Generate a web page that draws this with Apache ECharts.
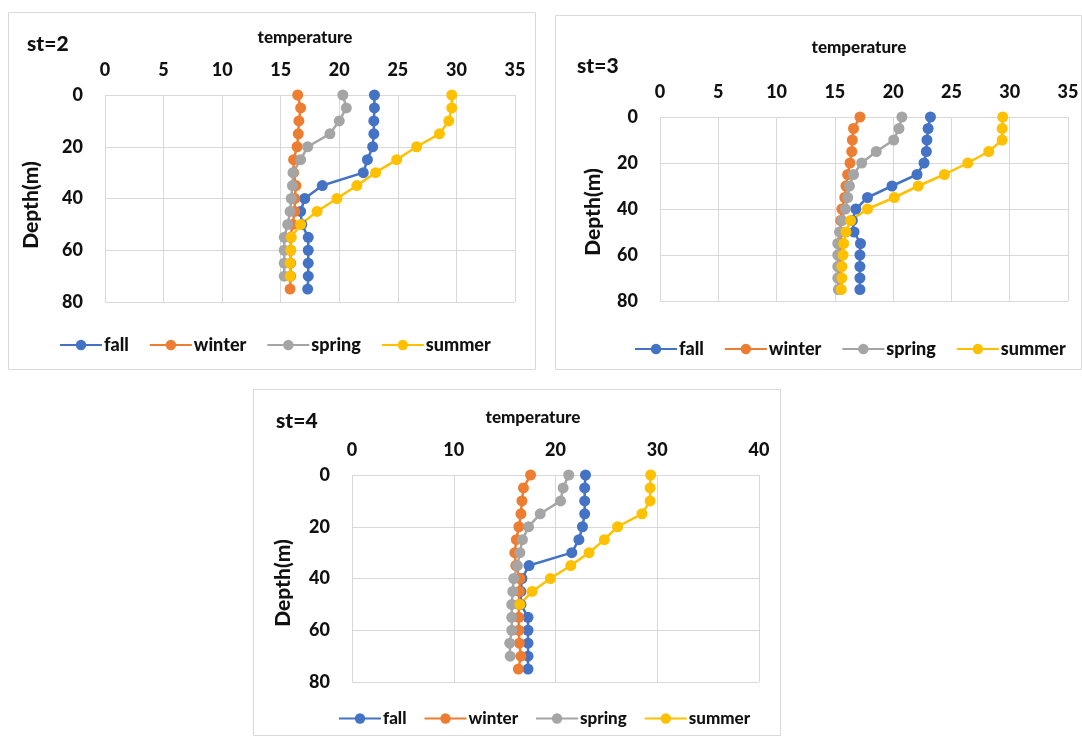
<!DOCTYPE html>
<html><head><meta charset="utf-8">
<script src="https://cdn.jsdelivr.net/npm/echarts/dist/echarts.min.js"></script>
<style>html,body{margin:0;padding:0;background:#fff}#c{width:1082px;height:736px}</style>
</head><body><div id="c"></div><script>
// ---- data ----
const depths = [0,5,10,15,20,25,30,35,40,45,50,55,60,65,70,75];
const seasons = ['fall','winter','spring','summer'];
const colors = ['#4472C4','#ED7D31','#A5A5A5','#FFC000'];

const st2Fall   = [23.0,23.0,22.95,22.95,22.85,22.4,22.05,18.55,17.05,16.7,16.8,17.35,17.35,17.35,17.35,17.3];
const st2Winter = [16.45,16.7,16.55,16.5,16.4,16.1,16.1,16.3,16.2,16.2,16.0,15.85,15.85,15.85,15.85,15.8];
const st2Spring = [20.3,20.6,20.0,19.2,17.3,16.7,16.05,16.0,15.9,15.8,15.6,15.3,15.3,15.3,15.3,null];
const st2Summer = [29.6,29.6,29.35,28.55,26.6,24.9,23.1,21.5,19.8,18.1,16.7,15.9,15.85,15.8,15.8,null];

const st3Fall   = [23.2,23.0,22.9,22.85,22.65,22.05,19.9,17.8,16.8,16.5,16.65,17.2,17.15,17.15,17.15,17.15];
const st3Winter = [17.15,16.6,16.5,16.45,16.3,16.1,15.95,15.85,15.6,15.5,15.5,15.5,15.45,15.45,15.4,15.4];
const st3Spring = [20.75,20.5,20.05,18.55,17.3,16.6,16.25,16.1,15.9,15.6,15.4,15.25,15.25,15.25,15.25,15.3];
const st3Summer = [29.4,29.35,29.35,28.2,26.4,24.4,22.15,20.1,17.8,16.35,15.95,15.75,15.7,15.6,15.6,15.55];

const st4Fall   = [22.95,22.87,22.87,22.87,22.65,22.3,21.6,17.4,16.7,16.6,16.6,17.3,17.3,17.3,17.3,17.3];
const st4Winter = [17.55,16.85,16.7,16.6,16.4,16.15,16.0,16.1,16.5,16.45,16.4,16.4,16.4,16.45,16.6,16.35];
const st4Spring = [21.3,20.75,20.5,18.5,17.35,16.75,16.5,16.25,15.9,15.8,15.7,15.7,15.7,15.5,15.55,null];
const st4Summer = [29.35,29.3,29.3,28.5,26.1,24.8,23.3,21.5,19.5,17.7,16.5,null,null,null,null,null];

const panelTitles = ['st=2','st=3','st=4'];
const xAxisTitle = 'temperature';
const yAxisTitle = 'Depth(m)';
const xMax = [35,35,40];
const xStep = [5,5,10];
const yMax = 80, yStep = 20;

const panelData = [
  [st2Fall,st2Winter,st2Spring,st2Summer],
  [st3Fall,st3Winter,st3Spring,st3Summer],
  [st4Fall,st4Winter,st4Spring,st4Summer]
];

// ---- layout ----
const FONT = 'Lato';
const W = '900';
const layout = [
  {box:[8,12,527,357],  grid:[105,95,410,207], title:[27,44], xt:[305,38], yt:[31,205], leg:[54,331], lf:18, lg:20},
  {box:[555,15,526,354],grid:[660,117,408,184],title:[577,66], xt:[859,48], yt:[593,212], leg:[629,335], lf:18, lg:20},
  {box:[253,389,527,346],grid:[352,475,407,207],title:[276,421],xt:[533,418],yt:[283,583],leg:[333,705], lf:17, lg:17}
];

const grids=[],xAxes=[],yAxes=[],series=[],legends=[],graphics=[];
layout.forEach((L,i)=>{
  graphics.push({type:'rect',shape:{x:L.box[0]+0.5,y:L.box[1]+0.5,width:L.box[2],height:L.box[3]},
    style:{fill:'#fff',stroke:'#d9d9d9',lineWidth:1},z:-10});
  graphics.push({type:'text',x:L.title[0],y:L.title[1],style:{text:panelTitles[i],font:W+' 21px '+FONT,fill:'#111',textVerticalAlign:'middle'}});
  graphics.push({type:'text',x:L.xt[0],y:L.xt[1],style:{text:xAxisTitle,font:W+' 17px '+FONT,fill:'#111',textAlign:'center',textVerticalAlign:'middle'}});
  graphics.push({type:'text',x:L.yt[0],y:L.yt[1],rotation:Math.PI/2,style:{text:yAxisTitle,font:W+' 21px '+FONT,fill:'#111',textAlign:'center',textVerticalAlign:'middle'}});
  grids.push({left:L.grid[0],top:L.grid[1],width:L.grid[2],height:L.grid[3],containLabel:false});
  xAxes.push({type:'value',gridIndex:i,position:'top',min:0,max:xMax[i],interval:xStep[i],
    axisLine:{show:false},axisTick:{show:false},
    axisLabel:{margin:16,fontFamily:FONT,fontWeight:W,fontSize:18,color:'#111'},
    splitLine:{show:true,lineStyle:{color:'#d9d9d9',width:1}}});
  yAxes.push({type:'value',gridIndex:i,inverse:true,min:0,max:yMax,interval:yStep,
    axisLine:{show:false},axisTick:{show:false},
    axisLabel:{margin:22,fontFamily:FONT,fontWeight:W,fontSize:18,color:'#111'},
    splitLine:{show:true,lineStyle:{color:'#d9d9d9',width:1}}});
  seasons.forEach((s,k)=>{
    const vals = panelData[i][k];
    const pts = [];
    vals.forEach((v,j)=>{ if(v!==null) pts.push([v,depths[j]]); });
    series.push({name:s,type:'line',xAxisIndex:i,yAxisIndex:i,data:pts,
      symbol:'circle',symbolSize:11,showSymbol:true,
      lineStyle:{width:2.5,color:colors[k]},itemStyle:{color:colors[k]},
      emphasis:{disabled:true},animation:false});
  });
  legends.push({data:seasons,left:L.leg[0],top:L.leg[1],orient:'horizontal',
    itemWidth:42,itemHeight:13,itemGap:L.lg,
    textStyle:{fontFamily:FONT,fontWeight:W,fontSize:L.lf,color:'#111',padding:[0,0,0,-3]},
    selectedMode:false});
});

const chart = echarts.init(document.getElementById('c'),null,{renderer:'canvas'});
chart.setOption({animation:false,backgroundColor:'#fff',grid:grids,xAxis:xAxes,yAxis:yAxes,series:series,legend:legends,graphic:graphics});
</script></body></html>
